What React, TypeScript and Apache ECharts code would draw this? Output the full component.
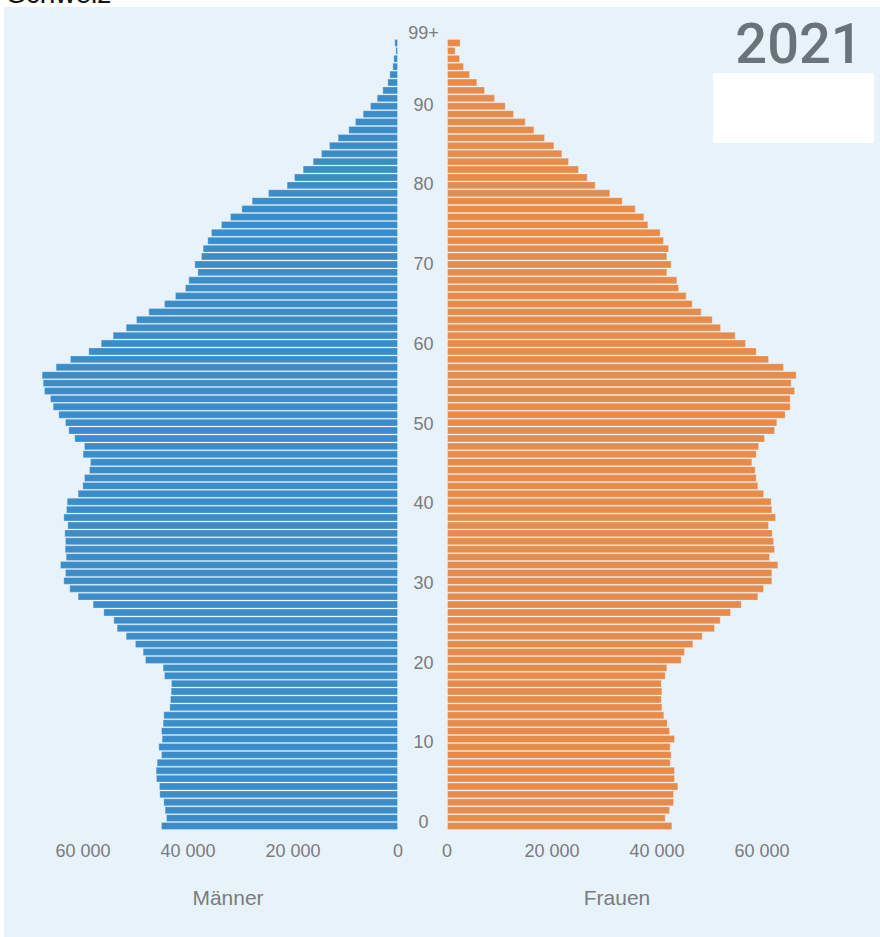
import React, { useEffect, useRef } from "react";
import * as echarts from "echarts";

const ages: string[] = Array.from({ length: 100 }, (_, i) => String(i));

const maleValues: number[] = [
  45140, 44190, 44450, 44700, 45460, 45530, 46100, 46160, 45970, 45140,
  45650, 45020, 45140, 44830, 44700, 43560, 43430, 43300, 43240, 44570,
  44830, 48190, 48640, 50100, 51870, 53590, 54220, 56130, 58160, 61020,
  62610, 63750, 63430, 64380, 63300, 63490, 63430, 63560, 62990, 63750,
  63240, 63110, 61020, 60130, 59810, 58860, 58670, 60070, 59810, 61650,
  62800, 63430, 64700, 65780, 66290, 67430, 67680, 67870, 65210, 62480,
  58990, 56630, 54350, 51870, 49910, 47560, 44570, 42480, 40570, 39940,
  38220, 38790, 37520, 37210, 36320, 35620, 33720, 32000, 29840, 27870,
  24760, 21210, 19810, 18160, 16250, 14670, 13140, 11490, 9460, 8190,
  6730, 5330, 4060, 2980, 2030, 1650, 1080, 890, 500, 700,
];

const femaleValues: number[] = [
  42920, 41650, 42480, 43240, 43240, 44060, 43430, 43430, 42600, 42790,
  42600, 43430, 42480, 42030, 41400, 41020, 40890, 41020, 40890, 41650,
  41970, 44700, 45330, 46920, 48700, 51050, 52130, 54100, 56130, 59300,
  60380, 61970, 61970, 63110, 61530, 62480, 62290, 62030, 61330, 62670,
  61970, 61840, 60380, 59300, 58990, 58800, 58160, 58990, 59430, 60570,
  62480, 62920, 64510, 65460, 65460, 66290, 65650, 66600, 64190, 61330,
  58990, 56950, 54990, 52190, 50610, 48510, 46800, 45650, 44190, 43870,
  41970, 42790, 41970, 42290, 41330, 40700, 38350, 37590, 35940, 33460,
  31110, 28320, 26800, 25140, 23240, 21970, 20450, 18670, 16640, 14990,
  12760, 11180, 9140, 7240, 5780, 4380, 3240, 2480, 1650, 2600,
];

const xTickMax = 70000;
const xTickStep = 20000;
const ageTickMax = 99;
const ageTickStep = 10;

const titleText = "Schweiz";
const yearText = "2021";
const maleLabel = "Männer";
const femaleLabel = "Frauen";

const LABEL_COLOR = "#7b7b7b";
const FONT = "'Liberation Sans', Arial, sans-serif";

function fmt(v: number): string {
  return String(v).replace(/\B(?=(\d{3})+(?!\d))/g, " ");
}

export default function App() {
  const ref = useRef<HTMLDivElement>(null);

  useEffect(() => {
    if (!ref.current) return;
    const chart = echarts.init(ref.current, undefined, { renderer: "svg" });

    const xLabel = {
      color: LABEL_COLOR,
      fontSize: 18,
      fontFamily: FONT,
      margin: 12,
      formatter: (v: number) => (v === xTickMax ? "" : fmt(v)),
    };

    const barStyle = (color: string) => ({
      color,
      borderColor: "rgba(255,255,255,0.25)",
      borderWidth: 1,
    });

    chart.setOption({
      animation: false,
      backgroundColor: "#ffffff",
      grid: [
        { left: 30.5, width: 367.5, top: 39, height: 791 },
        { left: 447, width: 367.5, top: 39, height: 791 },
        { left: 423.5, width: 1, top: 33, height: 789 },
      ],
      xAxis: [
        {
          gridIndex: 0,
          type: "value",
          inverse: true,
          min: 0,
          max: xTickMax,
          interval: xTickStep,
          axisLine: { show: false },
          axisTick: { show: false },
          splitLine: { show: false },
          axisLabel: xLabel,
        },
        {
          gridIndex: 1,
          type: "value",
          min: 0,
          max: xTickMax,
          interval: xTickStep,
          axisLine: { show: false },
          axisTick: { show: false },
          splitLine: { show: false },
          axisLabel: xLabel,
        },
        { gridIndex: 2, type: "value", show: false, min: 0, max: 1 },
      ],
      yAxis: [
        { gridIndex: 0, type: "category", data: ages, show: false },
        { gridIndex: 1, type: "category", data: ages, show: false },
        {
          gridIndex: 2,
          type: "value",
          min: 0,
          max: ageTickMax,
          interval: ageTickStep,
          axisLine: { show: false },
          axisTick: { show: false },
          splitLine: { show: false },
          axisLabel: {
            align: "center",
            margin: 0,
            color: LABEL_COLOR,
            fontSize: 18,
            fontFamily: FONT,
            formatter: (v: number) => (v === ageTickMax ? "99+" : String(v)),
          },
        },
      ],
      series: [
        {
          name: maleLabel,
          type: "bar",
          xAxisIndex: 0,
          yAxisIndex: 0,
          data: maleValues,
          barCategoryGap: "0%",
          itemStyle: barStyle("#3b8dca"),
        },
        {
          name: femaleLabel,
          type: "bar",
          xAxisIndex: 1,
          yAxisIndex: 1,
          data: femaleValues,
          barCategoryGap: "0%",
          itemStyle: barStyle("#e78b4b"),
        },
      ],
      graphic: [
        {
          type: "rect",
          z: -10,
          shape: { x: 4, y: 7, width: 876, height: 930 },
          style: { fill: "#e8f2fb" },
          silent: true,
        },
        {
          type: "text",
          x: 7,
          y: -7,
          style: {
            text: titleText,
            fill: "#111111",
            fontSize: 28,
            fontFamily: FONT,
            align: "left",
            verticalAlign: "middle",
          },
        },
        {
          type: "rect",
          shape: { x: 713, y: 73, width: 161, height: 70 },
          style: { fill: "#ffffff" },
        },
        {
          type: "text",
          x: 799,
          y: 44,
          style: {
            text: yearText,
            fill: "#6a737b",
            fontSize: 56,
            fontWeight: 500,
            fontFamily: "Roboto, sans-serif",
            align: "center",
            verticalAlign: "middle",
          },
        },
        {
          type: "text",
          x: 228,
          y: 897,
          style: {
            text: maleLabel,
            fill: LABEL_COLOR,
            fontSize: 21,
            fontFamily: FONT,
            align: "center",
            verticalAlign: "middle",
          },
        },
        {
          type: "text",
          x: 617,
          y: 897,
          style: {
            text: femaleLabel,
            fill: LABEL_COLOR,
            fontSize: 21,
            fontFamily: FONT,
            align: "center",
            verticalAlign: "middle",
          },
        },
      ],
    });

    return () => {
      chart.dispose();
    };
  }, []);

  return (
    <div
      ref={ref}
      style={{ position: "absolute", left: 0, top: 0, width: 880, height: 937 }}
    />
  );
}
